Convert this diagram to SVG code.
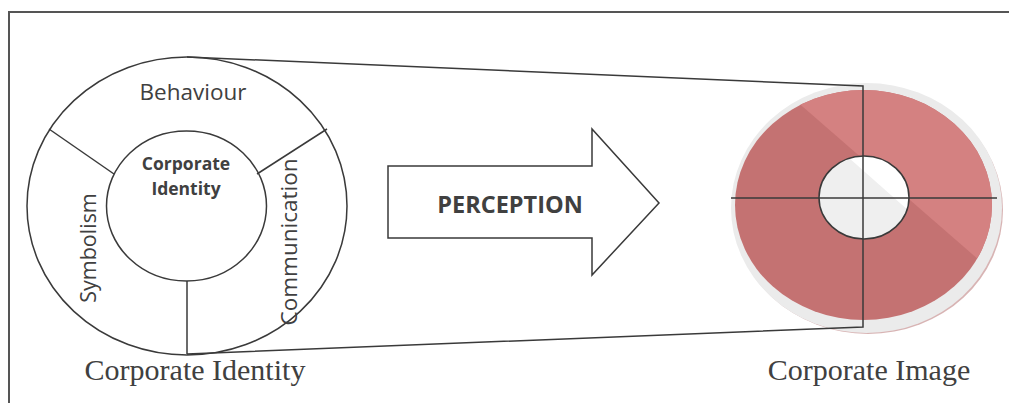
<svg xmlns="http://www.w3.org/2000/svg" width="1009" height="403" viewBox="0 0 1009 403">
<style>
.ln{fill:none;stroke:#3a3a3a;stroke-width:1.5}
.sans{font-family:"Open Sans","Noto Sans","DejaVu Sans",sans-serif;fill:#404040}
.serif{font-family:"Liberation Serif","Times New Roman",serif;fill:#404040;font-size:30px}
</style>
<defs>
<clipPath id="disc"><ellipse cx="863.5" cy="205" rx="128.5" ry="115"/></clipPath>
<clipPath id="hole"><ellipse cx="864" cy="197.5" rx="45" ry="41.5"/></clipPath>
</defs>
<rect width="1009" height="403" fill="#ffffff"/>
<path d="M9,403 V12 H1009" fill="none" stroke="#555" stroke-width="2"/>

<g id="corporate-identity">
<ellipse class="ln" cx="187" cy="206" rx="160" ry="149"/>
<ellipse class="ln" cx="186.5" cy="206" rx="80" ry="75"/>
<line class="ln" x1="49" y1="129" x2="114" y2="174"/>
<line class="ln" x1="327" y1="129" x2="257" y2="174"/>
<line class="ln" x1="187" y1="281" x2="187" y2="354"/>
<text class="sans" x="193" y="100" font-size="22.5" text-anchor="middle">Behaviour</text>
<text class="sans" x="186" y="170" font-size="17.5" font-weight="bold" text-anchor="middle">Corporate</text>
<text class="sans" x="186" y="195" font-size="17.5" font-weight="bold" text-anchor="middle">Identity</text>
<text class="sans" font-size="21.5" text-anchor="middle" transform="translate(96,248) rotate(-90)">Symbolism</text>
<text class="sans" font-size="22.5" text-anchor="middle" transform="translate(297,242) rotate(-90)">Communication</text>
<text class="serif" x="195" y="380" text-anchor="middle">Corporate Identity</text>
</g>

<g id="perception">
<path d="M388,166 H592 V129 L659,203 L592,275 V238 H388 Z" fill="#fff" stroke="#3a3a3a" stroke-width="1.5"/>
<text class="sans" x="510" y="213" font-size="23.5" font-weight="bold" text-anchor="middle">PERCEPTION</text>
</g>

<g id="corporate-image">
<ellipse cx="868" cy="210" rx="135" ry="124" fill="#d8b4b4"/>
<ellipse cx="866.5" cy="208" rx="135.5" ry="125" fill="#ebebeb"/>
<ellipse cx="863.5" cy="205" rx="128.5" ry="115" fill="#c47272"/>
<g clip-path="url(#disc)">
<polygon points="787,93 987,267 1010,267 1010,80 787,80" fill="#d48181"/>
</g>
<ellipse cx="864" cy="197.5" rx="45" ry="41.5" fill="#efefef"/>
<g clip-path="url(#hole)">
<polygon points="840,150 925,225 925,150" fill="#ffffff"/>
</g>
<ellipse class="ln" cx="864" cy="197.5" rx="45" ry="41.5"/>
<line class="ln" x1="731" y1="198" x2="997" y2="198"/>
<text class="serif" x="869" y="380" font-size="31" text-anchor="middle">Corporate Image</text>
</g>

<g id="connectors">
<path class="ln" d="M187,57 L863,86 L863,327 L187,354"/>
</g>
</svg>
